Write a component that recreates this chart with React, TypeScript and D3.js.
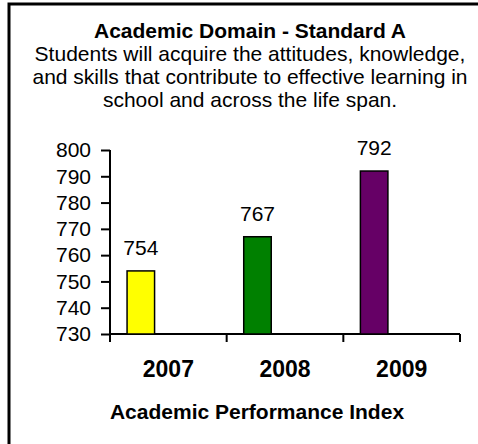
import React, { useRef, useEffect } from 'react'
import * as d3 from 'd3'

const years = ['2007', '2008', '2009']
const api = [754, 767, 792]
const barColors = ['#ffff00', '#008000', '#660066']
const yTicks = [730, 740, 750, 760, 770, 780, 790, 800]
const title = 'Academic Domain - Standard A'
const subtitle = [
  'Students will acquire the attitudes, knowledge,',
  'and skills that contribute to effective learning in',
  'school and across the life span.',
]
const xTitle = 'Academic Performance Index'

const FONT = '"Liberation Sans", Arial, sans-serif'

export default function App() {
  const svgRef = useRef<SVGSVGElement>(null)

  useEffect(() => {
    if (!svgRef.current) return
    const svg = d3.select(svgRef.current)
    svg.selectAll('*').remove()

    const W = 478
    const H = 444

    svg.append('rect').attr('width', W).attr('height', H).attr('fill', 'white')

    // frame, cut off at right and bottom like the source
    svg
      .append('rect')
      .attr('x', 9)
      .attr('y', 4)
      .attr('width', 520)
      .attr('height', 520)
      .attr('fill', 'none')
      .attr('stroke', '#000')
      .attr('stroke-width', 3)

    const cx = 250
    svg
      .append('text')
      .attr('x', cx)
      .attr('y', 38)
      .attr('text-anchor', 'middle')
      .attr('font-family', FONT)
      .attr('font-weight', 'bold')
      .attr('font-size', 21)
      .text(title)

    subtitle.forEach((s, i) => {
      svg
        .append('text')
        .attr('x', cx)
        .attr('y', 61 + i * 23)
        .attr('text-anchor', 'middle')
        .attr('font-family', FONT)
        .attr('font-size', 21)
        .text(s)
    })

    const x = d3.scaleBand().domain(years).range([110, 460]).padding(0)
    // Excel-style cluster slots inside each category; each year sits in the first slot
    const slot = d3.scaleBand().domain(years).range([0, x.bandwidth()]).paddingInner(0).paddingOuter(0.62)
    const y = d3.scaleLinear().domain([730, 800]).range([334, 150])

    const yAxis = svg
      .append('g')
      .attr('transform', 'translate(110,0)')
      .call(d3.axisLeft(y).tickValues(yTicks).tickSize(9).tickPadding(10))
    yAxis.select('.domain').attr('stroke-width', 2).attr('d', `M0,${y(800)}V${y(730)}`)
    yAxis.selectAll('.tick line').attr('stroke-width', 2)
    yAxis
      .selectAll('text')
      .attr('font-family', FONT)
      .attr('font-size', 21)
      .attr('fill', '#000')

    const xAxis = svg
      .append('g')
      .attr('transform', `translate(0,${y(730)})`)
      .call(d3.axisBottom(x).tickSize(0).tickPadding(27))
    xAxis.select('.domain').attr('stroke-width', 2).attr('d', `M110,0H460`)
    xAxis
      .selectAll('text')
      .attr('font-family', FONT)
      .attr('font-weight', 'bold')
      .attr('font-size', 23)
      .attr('fill', '#000')

    const bounds = [...years.map((d) => x(d) as number), x.range()[1]]
    svg
      .append('g')
      .selectAll('line')
      .data(bounds)
      .join('line')
      .attr('x1', (d) => d)
      .attr('x2', (d) => d)
      .attr('y1', y(730))
      .attr('y2', y(730) + 8)
      .attr('stroke', '#000')
      .attr('stroke-width', 2)

    const bw = slot.bandwidth()
    const off = slot(years[0]) as number

    svg
      .append('g')
      .selectAll('rect')
      .data(years)
      .join('rect')
      .attr('x', (d) => (x(d) as number) + off)
      .attr('y', (_, i) => y(api[i]))
      .attr('width', bw)
      .attr('height', (_, i) => y(730) - y(api[i]))
      .attr('fill', (_, i) => barColors[i])
      .attr('stroke', '#000')
      .attr('stroke-width', 1.5)

    svg
      .append('g')
      .selectAll('text')
      .data(years)
      .join('text')
      .attr('x', (d) => (x(d) as number) + off + bw / 2)
      .attr('y', (_, i) => y(api[i]) - 16)
      .attr('text-anchor', 'middle')
      .attr('font-family', FONT)
      .attr('font-size', 21)
      .text((_, i) => String(api[i]))

    svg
      .append('text')
      .attr('x', 257)
      .attr('y', 419)
      .attr('text-anchor', 'middle')
      .attr('font-family', FONT)
      .attr('font-weight', 'bold')
      .attr('font-size', 21)
      .text(xTitle)
  }, [])

  return (
    <svg
      ref={svgRef}
      width={478}
      height={444}
      style={{ position: 'absolute', left: 0, top: 0, display: 'block' }}
    />
  )
}
